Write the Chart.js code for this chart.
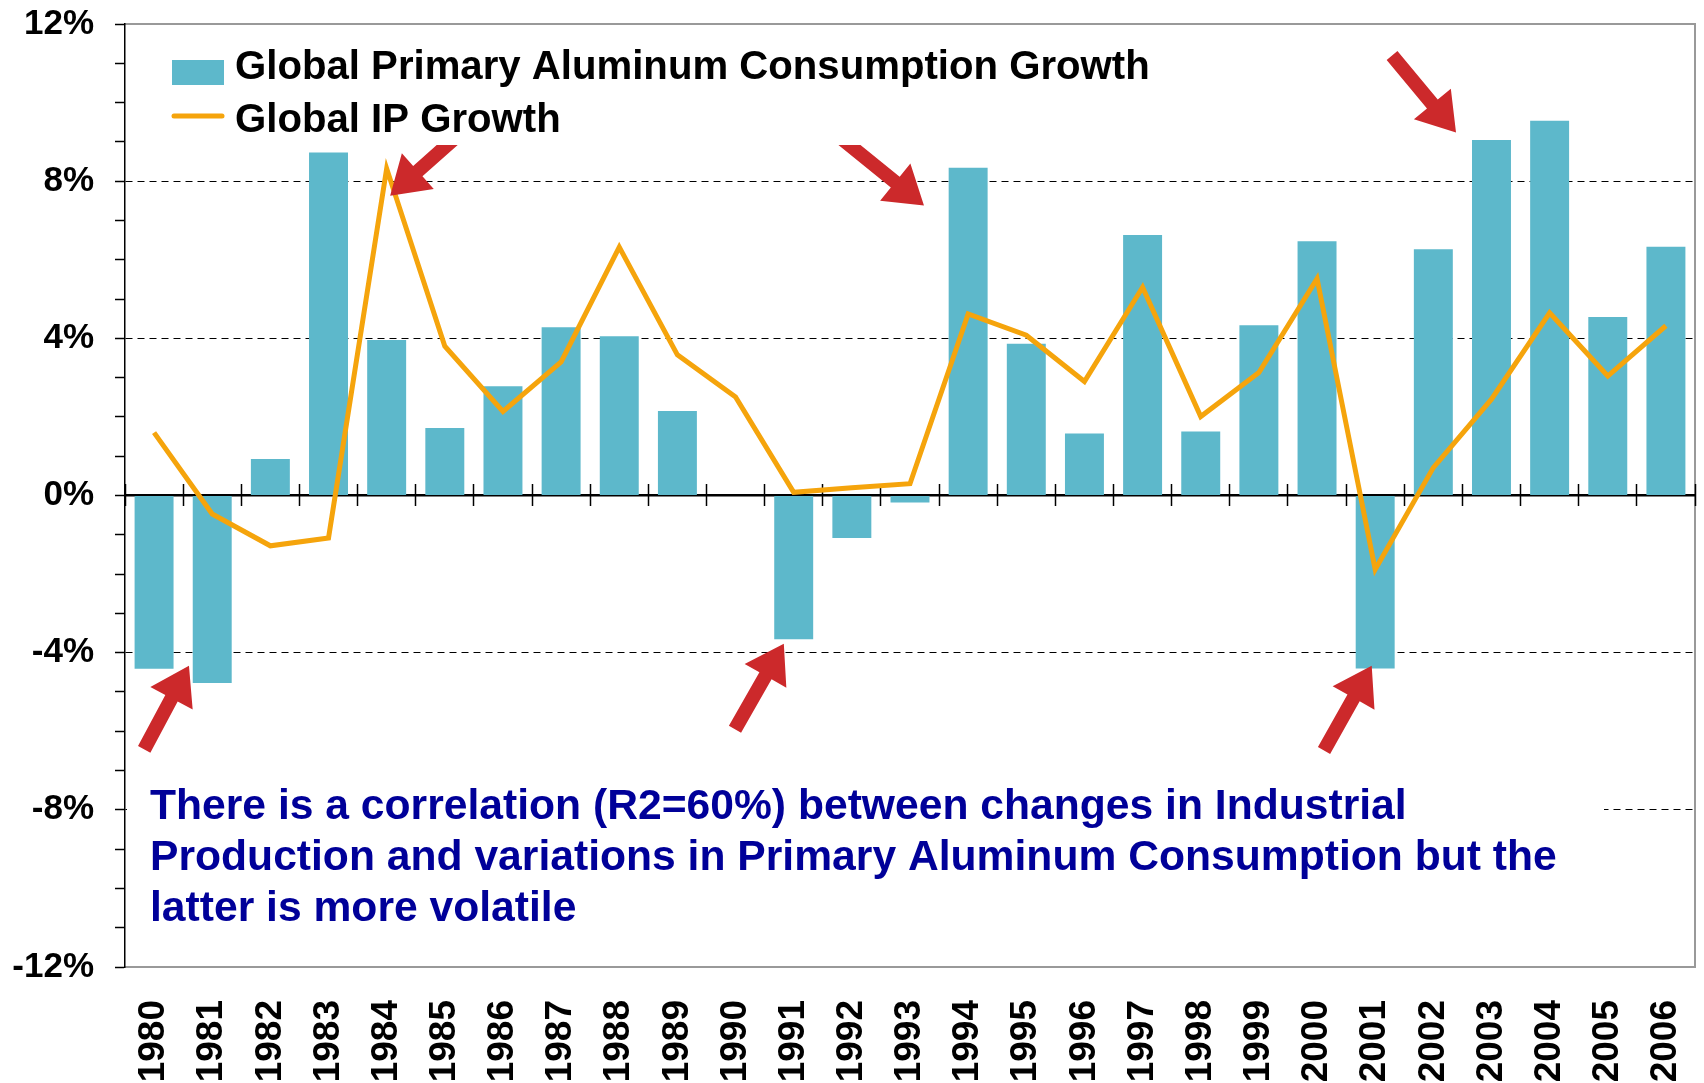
<!DOCTYPE html>
<html>
<head>
<meta charset="utf-8">
<script src="https://cdn.jsdelivr.net/npm/chart.js@4.4.1/dist/chart.umd.min.js"></script>
<style>
  html, body { margin: 0; padding: 0; background: #fff; overflow: hidden; }
  canvas { display: block; }
</style>
</head>
<body>
<canvas id="chart" width="1704" height="1083"></canvas>
<script>
const years = ['1980', '1981', '1982', '1983', '1984', '1985', '1986', '1987', '1988', '1989',
  '1990', '1991', '1992', '1993', '1994', '1995', '1996', '1997', '1998', '1999',
  '2000', '2001', '2002', '2003', '2004', '2005', '2006'];
const aluminumGrowth = [-4.41, -4.77, 0.93, 8.73, 3.96, 1.72, 2.78, 4.28, 4.05, 2.15,
  0, -3.66, -1.08, -0.18, 8.34, 3.86, 1.58, 6.63, 1.63, 4.33,
  6.47, -4.40, 6.27, 9.05, 9.54, 4.54, 6.33];
const ipGrowth = [1.60, -0.47, -1.28, -1.08, 8.32, 3.80, 2.14, 3.40, 6.32, 3.58,
  2.51, 0.08, 0.20, 0.30, 4.62, 4.08, 2.90, 5.30, 2.01, 3.13,
  5.52, -1.88, 0.71, 2.45, 4.65, 3.04, 4.32];
const seriesNames = ['Global Primary Aluminum Consumption Growth', 'Global IP Growth'];
const noteLines = [
  'There is a correlation (R2=60%) between changes in Industrial',
  'Production and variations in Primary Aluminum Consumption but the',
  'latter is more volatile'
];
// red arrows: [tail category, tail value, tip category, tip value]
const arrows = [
  [-0.17, -6.46, 0.60, -4.33],
  [5.36, 9.34, 4.06, 7.63],
  [9.99, -5.95, 10.83, -3.77],
  [11.76, 9.16, 13.24, 7.38],
  [21.29, 11.20, 22.39, 9.24],
  [20.12, -6.49, 20.94, -4.33]
];

const FONT = "'Liberation Sans', Arial, sans-serif";
const TEAL = '#5DB8CB';
const ORANGE = '#F5A40C';
const RED = '#CC292B';
const NAVY = '#000099';

const meas = document.createElement('canvas').getContext('2d');
function fitSize(text, base, target) {
  meas.font = `bold ${base}px ${FONT}`;
  return base * target / meas.measureText(text).width;
}
const legendSize = fitSize(seriesNames[0], 38, 915);
const noteSize = fitSize(noteLines[1], 42, 1407);

function drawArrow(ctx, x0, y0, x1, y1) {
  const dx = x1 - x0, dy = y1 - y0, len = Math.hypot(dx, dy);
  const ux = dx / len, uy = dy / len, nx = -uy, ny = ux;
  const head = 37, hw = 24, sw = 7;
  const bx = x1 - ux * head, by = y1 - uy * head;
  ctx.beginPath();
  ctx.moveTo(x0 + nx * sw, y0 + ny * sw);
  ctx.lineTo(bx + nx * sw, by + ny * sw);
  ctx.lineTo(bx + nx * hw, by + ny * hw);
  ctx.lineTo(x1, y1);
  ctx.lineTo(bx - nx * hw, by - ny * hw);
  ctx.lineTo(bx - nx * sw, by - ny * sw);
  ctx.lineTo(x0 - nx * sw, y0 - ny * sw);
  ctx.closePath();
  ctx.fill();
}

const overlay = {
  id: 'overlay',
  beforeDraw(chart) {
    const {ctx, chartArea: a} = chart;
    ctx.save();
    ctx.strokeStyle = '#999';
    ctx.lineWidth = 2;
    ctx.beginPath();
    ctx.moveTo(a.left, a.top);
    ctx.lineTo(a.right, a.top);
    ctx.lineTo(a.right, a.bottom);
    ctx.lineTo(a.left, a.bottom);
    ctx.stroke();
    ctx.restore();
  },
  afterDraw(chart) {
    const {ctx, chartArea: a, scales: {x, y}} = chart;
    ctx.save();

    ctx.fillStyle = RED;
    arrows.forEach(([i0, v0, i1, v1]) => {
      drawArrow(ctx, x.getPixelForValue(i0), y.getPixelForValue(v0),
        x.getPixelForValue(i1), y.getPixelForValue(v1));
    });

    // legend
    const bar = chart.data.datasets[1], line = chart.data.datasets[0];
    ctx.fillStyle = '#fff';
    ctx.fillRect(a.left + 25, a.top + 6, 1020, 115);
    ctx.fillStyle = bar.backgroundColor;
    ctx.fillRect(a.left + 47, a.top + 36, 52, 25);
    ctx.strokeStyle = line.borderColor;
    ctx.lineWidth = 5;
    ctx.lineCap = 'round';
    ctx.beginPath();
    ctx.moveTo(a.left + 49, a.top + 92);
    ctx.lineTo(a.left + 97, a.top + 92);
    ctx.stroke();
    ctx.fillStyle = '#000';
    ctx.font = `bold ${legendSize}px ${FONT}`;
    ctx.textBaseline = 'alphabetic';
    ctx.fillText(bar.label, a.left + 110, a.top + 55);
    ctx.fillText(line.label, a.left + 110, a.top + 108);

    // note box
    ctx.fillStyle = '#fff';
    ctx.fillRect(a.left + 2, a.top + 742, 1477, 179);
    ctx.fillStyle = NAVY;
    ctx.font = `bold ${noteSize}px ${FONT}`;
    noteLines.forEach((t, i) => ctx.fillText(t, a.left + 25, a.top + 795 + i * 51));
    ctx.restore();
  }
};

const isGridValue = v => [-8, -4, 4, 8].includes(Math.round(v));

new Chart(document.getElementById('chart'), {
  type: 'bar',
  data: {
    labels: years,
    datasets: [
      {
        type: 'line',
        label: seriesNames[1],
        data: ipGrowth,
        borderColor: ORANGE,
        borderWidth: 5,
        pointRadius: 0,
        tension: 0,
        order: 1
      },
      {
        type: 'bar',
        label: seriesNames[0],
        data: aluminumGrowth,
        backgroundColor: TEAL,
        barPercentage: 0.67,
        categoryPercentage: 1,
        order: 2
      }
    ]
  },
  options: {
    responsive: false,
    animation: false,
    devicePixelRatio: 1,
    layout: { padding: { top: 24, right: 9, left: 0, bottom: 0 } },
    plugins: { legend: { display: false }, tooltip: { enabled: false } },
    scales: {
      x: {
        type: 'category',
        position: 'bottom',
        offset: true,
        grid: { display: false, drawTicks: false },
        border: { display: false },
        ticks: {
          autoSkip: false, maxRotation: 90, minRotation: 90, padding: 33,
          color: '#000', font: { family: FONT, size: 37, weight: 'bold' }
        },
        afterFit: s => { s.height = 116; s.paddingLeft = 0; s.paddingRight = 0; }
      },
      xZero: {
        type: 'category',
        axis: 'x',
        position: { y: 0 },
        offset: true,
        z: 1,
        ticks: { display: false },
        grid: { display: true, drawOnChartArea: false, drawTicks: false },
        border: { display: true, color: '#000', width: 2.5 },
        afterFit: s => { s.paddingLeft = 0; s.paddingRight = 0; }
      },
      xMarks: {
        type: 'category',
        axis: 'x',
        position: { y: 0.28 },
        offset: true,
        z: 1,
        ticks: { display: false },
        grid: {
          display: true, offset: true, drawOnChartArea: false, drawTicks: true,
          tickLength: 22, tickColor: '#000', tickWidth: 1.5
        },
        border: { display: false },
        afterFit: s => { s.paddingLeft = 0; s.paddingRight = 0; }
      },
      y: {
        type: 'linear',
        position: 'left',
        min: -12,
        max: 12,
        ticks: {
          stepSize: 1, autoSkip: false, padding: 21, color: '#000',
          font: { family: FONT, size: 35, weight: 'bold' },
          callback: v => (Math.round(v) % 4 === 0 ? Math.round(v) + '%' : '')
        },
        grid: {
          color: c => (c.tick && isGridValue(c.tick.value) ? '#000' : 'rgba(0,0,0,0)'),
          lineWidth: 1,
          tickColor: '#000',
          tickWidth: 1.5,
          tickLength: 10
        },
        border: { color: '#000', width: 1.5, dash: [7, 5] },
        afterFit: s => { s.width = 125; s.paddingTop = 0; s.paddingBottom = 0; }
      }
    }
  },
  plugins: [overlay]
});
</script>
</body>
</html>
